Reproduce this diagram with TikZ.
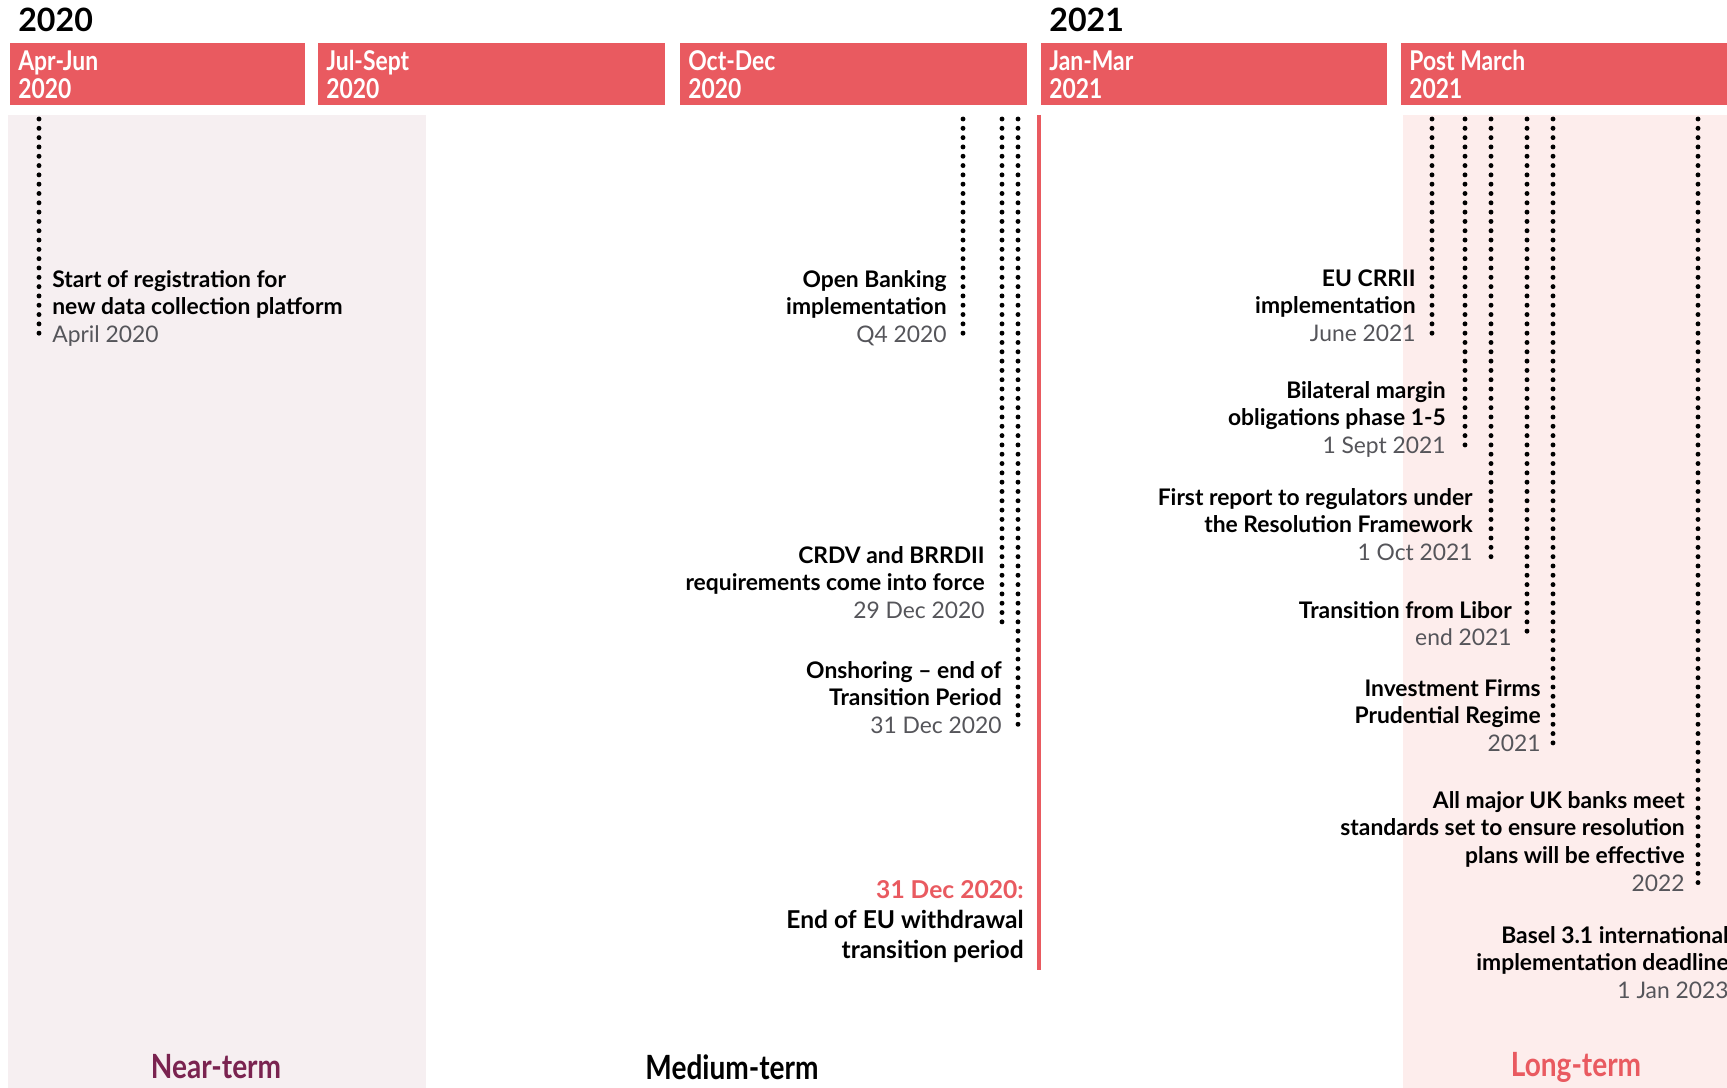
\documentclass[tikz,border=0pt]{standalone}
\usepackage{fontspec}
\setmainfont{Lato}
\newfontfamily\condfont[FakeStretch=0.84]{Lato}
\usepackage{tikz}
\definecolor{boxred}{RGB}{233,90,96}
\definecolor{nearbg}{RGB}{246,239,241}
\definecolor{longbg}{RGB}{253,237,236}
\definecolor{datecol}{RGB}{85,85,90}
\definecolor{nearcol}{RGB}{122,35,80}
\newcommand{\msdate}[1]{{\mdseries\color{datecol}#1}}

\begin{document}
\begin{tikzpicture}[x=0.02cm, y=-0.02cm,
	qbox/.style={fill=boxred},
	qlabel/.style={anchor=north west, inner sep=0pt, align=left, text=white, font=\condfont\bfseries\fontsize{15.5}{16}\selectfont},
	yearlabel/.style={anchor=west, inner sep=0pt, font=\bfseries\fontsize{18.3}{20}\selectfont},
	mstone/.style={anchor=north east, inner sep=0pt, align=right, font=\bfseries\fontsize{13}{15.7}\selectfont},
	dotline/.style={line width=2.8pt, line cap=round, dash pattern=on 0pt off 5.3pt},
	termlabel/.style={inner sep=0pt, font=\condfont\bfseries\fontsize{19}{20}\selectfont}]
\clip (0,0) rectangle (1727,1088);
\fill[white] (0,0) rectangle (1727,1088);
\fill[nearbg] (8,115) rectangle (426,1088);
\fill[longbg] (1403,115) rectangle (1727,1088);

\node[yearlabel] (y2020) at (18,20) {2020};
\node[yearlabel] (y2021) at (1049,20) {2021};

\fill[qbox] (10,43) rectangle (305,105);
\fill[qbox] (318,43) rectangle (665,105);
\fill[qbox] (680,43) rectangle (1027,105);
\fill[qbox] (1041,43) rectangle (1387,105);
\fill[qbox] (1401,43) rectangle (1727,105);
\node[qlabel] (aprjun) at (18,50) {Apr-Jun\\2020};
\node[qlabel] (julsep) at (326,50) {Jul-Sept\\2020};
\node[qlabel] (octdec) at (688,50) {Oct-Dec\\2020};
\node[qlabel] (janmar) at (1049,50) {Jan-Mar\\2021};
\node[qlabel] (postmar) at (1409,50) {Post March\\2021};

\draw[boxred, line width=2.3pt] (1039,115) -- (1039,970);

\foreach \n/\x/\y in {regdc/39/340, openbank/963/339, crdv/1002/625, onshore/1018/730,
	crrii/1432/341, bilat/1465/454, firstrep/1491/564, libor/1527/638, ifpr/1553/752, ukbanks/1698/891}
{
	\coordinate (\n-top) at (\x,119);
	\coordinate (\n-end) at (\x,\y);
	\draw[dotline] (\n-top) -- (\n-end);
}

\node[mstone, anchor=north west, align=left] (regdc) at (52,270) {Start of registration for\\new data collection platform\\\msdate{April 2020}};
\node[mstone] (openbank) at (947,270) {Open Banking\\implementation\\\msdate{Q4 2020}};
\node[mstone] (crdv) at (985,546) {CRDV and BRRDII\\requirements come into force\\\msdate{29 Dec 2020}};
\node[mstone] (onshore) at (1002,661) {Onshoring -- end of\\Transition Period\\\msdate{31 Dec 2020}};
\node[mstone, font=\bfseries\fontsize{14}{17}\selectfont] (euexit) at (1024,880) {\textcolor{boxred}{31 Dec 2020:}\\End of EU withdrawal\\transition period};
\node[mstone] (crrii) at (1416,269) {EU CRRII\\implementation\\\msdate{June 2021}};
\node[mstone] (bilat) at (1446,381) {Bilateral margin\\obligations phase 1-5\\\msdate{1 Sept 2021}};
\node[mstone] (firstrep) at (1473,488) {First report to regulators under\\the Resolution Framework\\\msdate{1 Oct 2021}};
\node[mstone] (libor) at (1512,601) {Transition from Libor\\\msdate{end 2021}};
\node[mstone] (ifpr) at (1541,679) {Investment Firms\\Prudential Regime\\\msdate{2021}};
\node[mstone] (ukbanks) at (1685,791) {All major UK banks meet\\standards set to ensure resolution\\plans will be effective\\\msdate{2022}};
\node[mstone] (basel) at (1729,926) {Basel 3.1 international\\implementation deadline\\\msdate{1 Jan 2023}};

\node[termlabel, text=nearcol] (nearterm) at (216,1067) {Near-term};
\node[termlabel] (medterm) at (732,1067) {Medium-term};
\node[termlabel, text=boxred] (longterm) at (1576,1067) {Long-term};
\end{tikzpicture}
\end{document}
